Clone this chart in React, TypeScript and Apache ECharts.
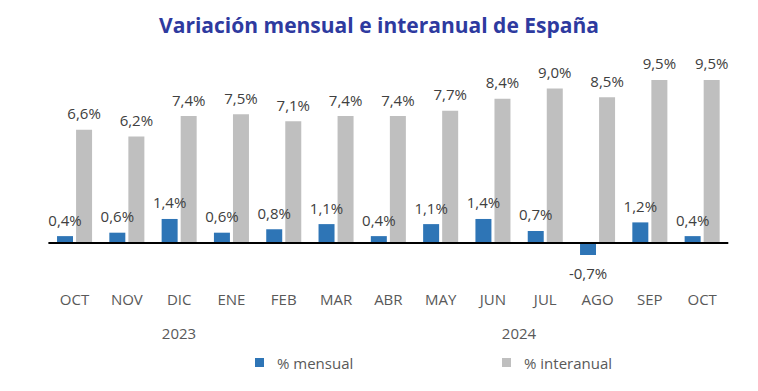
import React, { useEffect, useRef } from "react";
import * as echarts from "echarts";

const months = ["OCT", "NOV", "DIC", "ENE", "FEB", "MAR", "ABR", "MAY", "JUN", "JUL", "AGO", "SEP", "OCT"];
const mensual = [0.4, 0.6, 1.4, 0.6, 0.8, 1.1, 0.4, 1.1, 1.4, 0.7, -0.7, 1.2, 0.4];
const interanual = [6.6, 6.2, 7.4, 7.5, 7.1, 7.4, 7.4, 7.7, 8.4, 9.0, 8.5, 9.5, 9.5];
const years = [
  { text: "2023", x: 179 },
  { text: "2024", x: 519 },
];
const seriesNames = ["% mensual", "% interanual"];

const FONT = "'Open Sans', sans-serif";
const fmt = (v: number) => v.toFixed(1).replace(".", ",") + "%";

export default function App() {
  const ref = useRef<HTMLDivElement>(null);
  useEffect(() => {
    if (!ref.current) return;
    document.body.style.margin = "0";
    const chart = echarts.init(ref.current, undefined, { renderer: "svg" });
    const labelStyle = {
      show: true,
      fontFamily: FONT,
      fontSize: 15,
      color: "#404040",
      distance: 9,
      formatter: (p: any) => fmt(p.value),
    };
    const legendText = { fontFamily: FONT, fontSize: 15, color: "#595959", padding: [0, 0, 0, 8] };
    chart.setOption({
      animation: false,
      backgroundColor: "#ffffff",
      title: {
        text: "Variación mensual e interanual de España",
        left: "center",
        top: 9,
        textStyle: { fontFamily: FONT, fontSize: 21, fontWeight: "bold", color: "#2E3A9F" },
      },
      legend: [
        {
          data: [seriesNames[0]],
          left: 250,
          top: 350,
          icon: "rect",
          itemWidth: 9,
          itemHeight: 9,
          textStyle: legendText,
        },
        {
          data: [seriesNames[1]],
          left: 497,
          top: 350,
          icon: "rect",
          itemWidth: 9,
          itemHeight: 9,
          textStyle: legendText,
        },
      ],
      grid: { left: 48.4, right: 29.7, top: 71.4, bottom: 113.7, containLabel: false },
      xAxis: {
        type: "category",
        data: months,
        axisLine: { show: false },
        axisTick: { show: false },
        axisLabel: { fontFamily: FONT, fontSize: 15, color: "#595959", margin: 14 },
      },
      yAxis: {
        type: "value",
        min: -2,
        max: 10,
        show: false,
        splitLine: { show: false },
      },
      graphic: years.map((y) => ({
        type: "text",
        x: y.x,
        y: 333,
        style: {
          text: y.text,
          fontFamily: FONT,
          fontSize: 15,
          fill: "#595959",
          textAlign: "center",
          textVerticalAlign: "middle",
        },
      })),
      series: [
        {
          name: seriesNames[0],
          type: "bar",
          barWidth: 16,
          barGap: "19%",
          itemStyle: { color: "#2E75B6" },
          data: mensual.map((v) => ({
            value: v,
            label: { position: v < 0 ? "bottom" : "top", distance: v < 0 ? 11 : 9 },
          })),
          label: labelStyle,
          markLine: {
            silent: true,
            symbol: "none",
            label: { show: false },
            lineStyle: { color: "#000000", width: 2, type: "solid" },
            data: [{ yAxis: 0 }],
          },
          z: 3,
        },
        {
          name: seriesNames[1],
          type: "bar",
          barWidth: 16,
          itemStyle: { color: "#BFBFBF" },
          data: interanual,
          label: { ...labelStyle, position: "top" },
        },
      ],
    });
    return () => chart.dispose();
  }, []);
  return <div ref={ref} style={{ width: 758, height: 391 }} />;
}
